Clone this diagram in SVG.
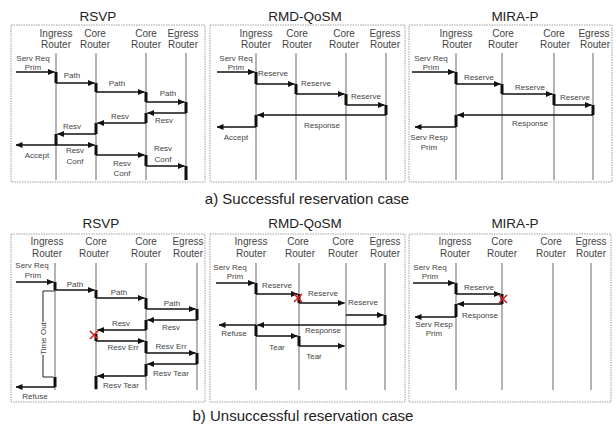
<svg xmlns="http://www.w3.org/2000/svg" width="616" height="427" viewBox="0 0 616 427">
<style>
text{font-family:"Liberation Sans",Arial,sans-serif}
.frame{fill:none;stroke:#a0a0a0;stroke-width:1;stroke-dasharray:1.5 1}
.life{stroke:#8a8a8a;stroke-width:1.3}
.msg line{stroke:#111;stroke-width:1.3;marker-end:url(#ah)}
.bar{fill:none;stroke:#111;stroke-width:3}
.title{font-size:13.5px;fill:#222;text-anchor:middle}
.hdr{font-size:10px;fill:#444;text-anchor:middle}
.lbl{font-size:8px;fill:#444;text-anchor:middle}
.cap{font-size:15px;fill:#222;text-anchor:middle}
.x{stroke:#d42020;stroke-width:1.6}
.tout{fill:none;stroke:#222;stroke-width:1}
</style>
<defs>
<marker id="ah" markerUnits="userSpaceOnUse" markerWidth="7" markerHeight="6" refX="6.5" refY="3" orient="auto">
<path d="M0,0 L7,3 L0,6 Z" fill="#111"/>
</marker>
</defs>
<rect width="616" height="427" fill="#fff"/>

<!-- ===== a) RSVP ===== -->
<g id="a-rsvp">
<rect class="frame" x="11" y="25" width="194" height="157"/>
<text class="title" x="98" y="21">RSVP</text>
<g id="a-rsvp-ingress"><line class="life" x1="56" y1="53" x2="56" y2="180"/><text class="hdr" x="56" y="36.5">Ingress</text><text class="hdr" x="56" y="47.5">Router</text></g>
<g id="a-rsvp-core1"><line class="life" x1="96" y1="53" x2="96" y2="180"/><text class="hdr" x="95" y="36.5">Core</text><text class="hdr" x="95" y="47.5">Router</text></g>
<g id="a-rsvp-core2"><line class="life" x1="146" y1="53" x2="146" y2="180"/><text class="hdr" x="146" y="36.5">Core</text><text class="hdr" x="146" y="47.5">Router</text></g>
<g id="a-rsvp-egress"><line class="life" x1="186" y1="53" x2="186" y2="180"/><text class="hdr" x="183" y="36.5">Egress</text><text class="hdr" x="183" y="47.5">Router</text></g>
</g>
<g id="a-rsvp-connectors">
<path class="bar" d="M56,72V83 M96,83V92 M146,92V102 M186,102V113 M146,113V123 M96,123V134 M56,134V145 M96,145V155 M146,155V166 M186,166V180"/>
<g class="msg">
<line x1="16" y1="72" x2="54.5" y2="72"/>
<line x1="56" y1="83" x2="94.5" y2="83"/>
<line x1="96" y1="92" x2="144.5" y2="92"/>
<line x1="146" y1="102" x2="184.5" y2="102"/>
<line x1="186" y1="113" x2="147.5" y2="113"/>
<line x1="146" y1="123" x2="97.5" y2="123"/>
<line x1="96" y1="134" x2="57.5" y2="134"/>
<line x1="56" y1="145" x2="16" y2="145"/>
<line x1="56" y1="145" x2="94.5" y2="145"/>
<line x1="96" y1="155" x2="144.5" y2="155"/>
<line x1="146" y1="166" x2="184.5" y2="166"/>
</g>
<text class="lbl" x="33" y="61">Serv Req</text><text class="lbl" x="33" y="70">Prim</text>
<text class="lbl" x="72" y="78">Path</text>
<text class="lbl" x="117" y="86">Path</text>
<text class="lbl" x="168" y="96">Path</text>
<text class="lbl" x="164" y="123">Resv</text>
<text class="lbl" x="120" y="119">Resv</text>
<text class="lbl" x="72" y="129">Resv</text>
<text class="lbl" x="37" y="158">Accept</text>
<text class="lbl" x="75" y="153">Resv</text><text class="lbl" x="75" y="164">Conf</text>
<text class="lbl" x="122" y="166">Resv</text><text class="lbl" x="122" y="176">Conf</text>
<text class="lbl" x="163" y="151">Resv</text><text class="lbl" x="163" y="162">Conf</text>
</g>

<!-- ===== a) RMD-QoSM ===== -->
<g id="a-rmd">
<rect class="frame" x="210" y="25" width="195" height="157"/>
<text class="title" x="305" y="21">RMD-QoSM</text>
<g id="a-rmd-ingress"><line class="life" x1="256" y1="53" x2="256" y2="180"/><text class="hdr" x="256" y="36.5">Ingress</text><text class="hdr" x="256" y="47.5">Router</text></g>
<g id="a-rmd-core1"><line class="life" x1="296" y1="53" x2="296" y2="180"/><text class="hdr" x="297" y="36.5">Core</text><text class="hdr" x="297" y="47.5">Router</text></g>
<g id="a-rmd-core2"><line class="life" x1="346" y1="53" x2="346" y2="180"/><text class="hdr" x="344" y="36.5">Core</text><text class="hdr" x="344" y="47.5">Router</text></g>
<g id="a-rmd-egress"><line class="life" x1="386" y1="53" x2="386" y2="180"/><text class="hdr" x="385" y="36.5">Egress</text><text class="hdr" x="385" y="47.5">Router</text></g>
</g>
<g id="a-rmd-connectors">
<path class="bar" d="M256,72V84 M296,84V94 M346,94V105 M386,105V115 M256,115V127"/>
<g class="msg">
<line x1="217" y1="72" x2="254.5" y2="72"/>
<line x1="256" y1="84" x2="294.5" y2="84"/>
<line x1="296" y1="94" x2="344.5" y2="94"/>
<line x1="346" y1="105" x2="384.5" y2="105"/>
<line x1="386" y1="115" x2="257.5" y2="115"/>
<line x1="256" y1="127" x2="217" y2="127"/>
</g>
<text class="lbl" x="236" y="61">Serv Req</text><text class="lbl" x="236" y="70">Prim</text>
<text class="lbl" x="273" y="76">Reserve</text>
<text class="lbl" x="316" y="86">Reserve</text>
<text class="lbl" x="366" y="99">Reserve</text>
<text class="lbl" x="322" y="128">Response</text>
<text class="lbl" x="236" y="140">Accept</text>
</g>

<!-- ===== a) MIRA-P ===== -->
<g id="a-mira">
<rect class="frame" x="409" y="25" width="203" height="157"/>
<text class="title" x="515" y="21">MIRA-P</text>
<g id="a-mira-ingress"><line class="life" x1="456" y1="53" x2="456" y2="180"/><text class="hdr" x="456" y="36.5">Ingress</text><text class="hdr" x="457" y="47.5">Router</text></g>
<g id="a-mira-core1"><line class="life" x1="502" y1="53" x2="502" y2="180"/><text class="hdr" x="503" y="36.5">Core</text><text class="hdr" x="503" y="47.5">Router</text></g>
<g id="a-mira-core2"><line class="life" x1="554" y1="53" x2="554" y2="180"/><text class="hdr" x="554" y="36.5">Core</text><text class="hdr" x="555" y="47.5">Router</text></g>
<g id="a-mira-egress"><line class="life" x1="593" y1="53" x2="593" y2="180"/><text class="hdr" x="594" y="36.5">Egress</text><text class="hdr" x="595" y="47.5">Router</text></g>
</g>
<g id="a-mira-connectors">
<path class="bar" d="M456,72V84 M502,84V94 M554,94V105 M593,105V115 M456,115V127"/>
<g class="msg">
<line x1="412" y1="72" x2="454.5" y2="72"/>
<line x1="456" y1="84" x2="500.5" y2="84"/>
<line x1="502" y1="94" x2="552.5" y2="94"/>
<line x1="554" y1="105" x2="591.5" y2="105"/>
<line x1="593" y1="115" x2="457.5" y2="115"/>
<line x1="456" y1="127" x2="415" y2="127"/>
</g>
<text class="lbl" x="431" y="61">Serv Req</text><text class="lbl" x="431" y="70">Prim</text>
<text class="lbl" x="479" y="80">Reserve</text>
<text class="lbl" x="530" y="90">Reserve</text>
<text class="lbl" x="575" y="100">Reserve</text>
<text class="lbl" x="530" y="126">Response</text>
<text class="lbl" x="429" y="140">Serv Resp</text><text class="lbl" x="429" y="150">Prim</text>
</g>

<text id="cap-a" class="cap" x="307" y="204">a) Successful reservation case</text>

<!-- ===== b) RSVP ===== -->
<g id="b-rsvp">
<rect class="frame" x="11" y="234" width="194" height="168"/>
<text class="title" x="101" y="228">RSVP</text>
<g id="b-rsvp-ingress"><line class="life" x1="55" y1="263" x2="55" y2="390"/><text class="hdr" x="47" y="244.5">Ingress</text><text class="hdr" x="47" y="256.5">Router</text></g>
<g id="b-rsvp-core1"><line class="life" x1="96" y1="263" x2="96" y2="390"/><text class="hdr" x="96" y="244.5">Core</text><text class="hdr" x="94" y="256.5">Router</text></g>
<g id="b-rsvp-core2"><line class="life" x1="146" y1="263" x2="146" y2="390"/><text class="hdr" x="146" y="244.5">Core</text><text class="hdr" x="146" y="256.5">Router</text></g>
<g id="b-rsvp-egress"><line class="life" x1="197" y1="263" x2="197" y2="390"/><text class="hdr" x="188" y="244.5">Egress</text><text class="hdr" x="188" y="256.5">Router</text></g>
</g>
<g id="b-rsvp-connectors">
<path class="bar" d="M55,282V290 M96,290V298 M146,298V309 M197,309V320 M146,320V330 M96,334V341 M146,341V353 M197,353V364 M146,364V376 M96,376V389 M55,377V387"/>
<g class="msg">
<line x1="16" y1="282" x2="53.5" y2="282"/>
<line x1="55" y1="290" x2="94.5" y2="290"/>
<line x1="96" y1="298" x2="144.5" y2="298"/>
<line x1="146" y1="309" x2="195.5" y2="309"/>
<line x1="197" y1="320" x2="147.5" y2="320"/>
<line x1="146" y1="330" x2="97.5" y2="330"/>
<line x1="96" y1="341" x2="144.5" y2="341"/>
<line x1="146" y1="353" x2="195.5" y2="353"/>
<line x1="197" y1="364" x2="147.5" y2="364"/>
<line x1="146" y1="376" x2="97.5" y2="376"/>
<line x1="55" y1="387" x2="16" y2="387"/>
</g>
<path class="tout" d="M55,291H43V322 M43,355V377H53.5"/>
<text class="lbl" transform="translate(46,338.5) rotate(-90)">Time Out</text>
<path class="x" d="M90,331L98,339 M98,331L90,339"/>
<text class="lbl" x="32" y="268">Serv Req</text><text class="lbl" x="33" y="278">Prim</text>
<text class="lbl" x="75" y="287">Path</text>
<text class="lbl" x="119" y="295">Path</text>
<text class="lbl" x="172" y="306">Path</text>
<text class="lbl" x="171" y="330">Resv</text>
<text class="lbl" x="121" y="326">Resv</text>
<text class="lbl" x="123" y="350">Resv Err</text>
<text class="lbl" x="171" y="349">Resv Err</text>
<text class="lbl" x="171" y="376">Resv Tear</text>
<text class="lbl" x="121" y="388">Resv Tear</text>
<text class="lbl" x="35" y="399">Refuse</text>
</g>

<!-- ===== b) RMD-QoSM ===== -->
<g id="b-rmd">
<rect class="frame" x="210" y="234" width="195" height="168"/>
<text class="title" x="305" y="228">RMD-QoSM</text>
<g id="b-rmd-ingress"><line class="life" x1="256" y1="263" x2="256" y2="390"/><text class="hdr" x="251" y="244.5">Ingress</text><text class="hdr" x="251" y="256.5">Router</text></g>
<g id="b-rmd-core1"><line class="life" x1="299" y1="263" x2="299" y2="390"/><text class="hdr" x="298" y="244.5">Core</text><text class="hdr" x="300" y="256.5">Router</text></g>
<g id="b-rmd-core2"><line class="life" x1="346" y1="263" x2="346" y2="390"/><text class="hdr" x="343" y="244.5">Core</text><text class="hdr" x="343" y="256.5">Router</text></g>
<g id="b-rmd-egress"><line class="life" x1="385" y1="263" x2="385" y2="390"/><text class="hdr" x="385" y="244.5">Egress</text><text class="hdr" x="385" y="256.5">Router</text></g>
</g>
<g id="b-rmd-connectors">
<path class="bar" d="M256,283V294 M299,294V303 M385,315V325 M256,325V336 M299,336V346"/>
<g class="msg">
<line x1="216" y1="283" x2="254.5" y2="283"/>
<line x1="256" y1="294" x2="297.5" y2="294"/>
<line x1="299" y1="303" x2="344.5" y2="303"/>
<line x1="346" y1="315" x2="383.5" y2="315"/>
<line x1="385" y1="325" x2="257.5" y2="325"/>
<line x1="256" y1="325" x2="219" y2="325"/>
<line x1="256" y1="336" x2="297.5" y2="336"/>
<line x1="299" y1="346" x2="344.5" y2="346"/>
</g>
<path class="x" d="M294,294L302,302 M302,294L294,302"/>
<text class="lbl" x="230" y="270">Serv Req</text><text class="lbl" x="235" y="279">Prim</text>
<text class="lbl" x="277" y="288">Reserve</text>
<text class="lbl" x="323" y="296">Reserve</text>
<text class="lbl" x="363" y="305">Reserve</text>
<text class="lbl" x="323" y="333">Response</text>
<text class="lbl" x="234" y="336">Refuse</text>
<text class="lbl" x="277" y="350">Tear</text>
<text class="lbl" x="314" y="359">Tear</text>
</g>

<!-- ===== b) MIRA-P ===== -->
<g id="b-mira">
<rect class="frame" x="409" y="234" width="202" height="168"/>
<text class="title" x="515" y="228">MIRA-P</text>
<g id="b-mira-ingress"><line class="life" x1="456" y1="263" x2="456" y2="390"/><text class="hdr" x="455" y="244.5">Ingress</text><text class="hdr" x="455" y="256.5">Router</text></g>
<g id="b-mira-core1"><line class="life" x1="502" y1="263" x2="502" y2="390"/><text class="hdr" x="502" y="244.5">Core</text><text class="hdr" x="502" y="256.5">Router</text></g>
<g id="b-mira-core2"><line class="life" x1="553" y1="263" x2="553" y2="390"/><text class="hdr" x="551" y="244.5">Core</text><text class="hdr" x="551" y="256.5">Router</text></g>
<g id="b-mira-egress"><line class="life" x1="591" y1="263" x2="591" y2="390"/><text class="hdr" x="591" y="244.5">Egress</text><text class="hdr" x="591" y="256.5">Router</text></g>
</g>
<g id="b-mira-connectors">
<path class="bar" d="M456,283V294 M502,294V304 M456,304V317"/>
<g class="msg">
<line x1="413" y1="283" x2="454.5" y2="283"/>
<line x1="456" y1="294" x2="500.5" y2="294"/>
<line x1="502" y1="304" x2="457.5" y2="304"/>
<line x1="456" y1="317" x2="415" y2="317"/>
</g>
<path class="x" d="M499,295L507,303 M507,295L499,303"/>
<text class="lbl" x="430" y="270">Serv Req</text><text class="lbl" x="430" y="279">Prim</text>
<text class="lbl" x="479" y="290">Reserve</text>
<text class="lbl" x="480" y="318">Response</text>
<text class="lbl" x="434" y="327">Serv Resp</text><text class="lbl" x="434" y="336">Prim</text>
</g>

<text id="cap-b" class="cap" x="303" y="421">b) Unsuccessful reservation case</text>
</svg>
